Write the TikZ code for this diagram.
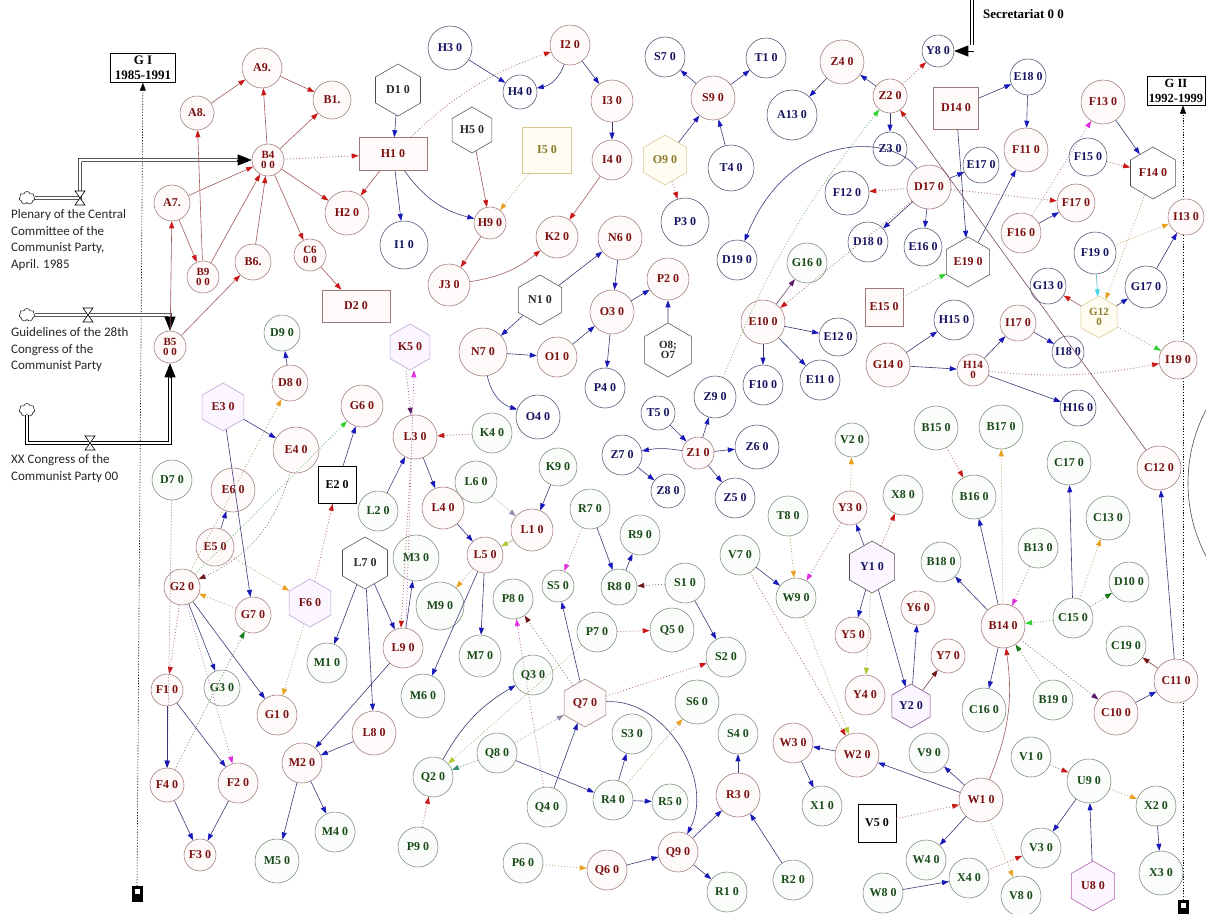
\documentclass[tikz,border=0pt]{standalone}
\usepackage{fontspec}
\setmainfont{Liberation Serif}
\newfontfamily\lblfont{Carlito}
\usetikzlibrary{arrows.meta,shapes.geometric,shapes.symbols,calc}
\definecolor{rtxt}{HTML}{7A1010}
\definecolor{rbd}{HTML}{A07878}
\definecolor{rfill}{HTML}{FFFAFA}
\definecolor{btxt}{HTML}{141460}
\definecolor{bbd}{HTML}{505070}
\definecolor{gtxt}{HTML}{1A4A1A}
\definecolor{gbd}{HTML}{7A8A7A}
\definecolor{gfill}{HTML}{FAFDFA}
\definecolor{ktxt}{HTML}{2A2A2A}
\definecolor{kbd}{HTML}{505050}
\definecolor{pbd}{HTML}{B8A0D8}
\definecolor{pfill}{HTML}{FBF6FF}
\definecolor{ybd}{HTML}{D8C890}
\definecolor{yfill}{HTML}{FFFDF2}
\definecolor{ytxt}{HTML}{8A7A2A}
\definecolor{bline}{HTML}{3A3A78}
\definecolor{rline}{HTML}{A05858}
\definecolor{barr}{HTML}{1818B8}
\definecolor{rarr}{HTML}{C81818}
\definecolor{oarr}{HTML}{E8A020}
\definecolor{marr}{HTML}{E030E0}
\definecolor{garr}{HTML}{30D030}
\definecolor{dgarr}{HTML}{1A7A1A}
\definecolor{drarr}{HTML}{701818}
\definecolor{parr}{HTML}{5A1A6A}
\definecolor{tarr}{HTML}{3A8A7A}
\definecolor{ygarr}{HTML}{B0C830}
\definecolor{carr}{HTML}{40D8E8}
\definecolor{gparr}{HTML}{9A8AAA}
\newcommand\ndf{\fontsize{12}{11}\selectfont\bfseries}
\newcommand\twf{\fontsize{11}{9.5}\selectfont\bfseries}
\newcommand\bxf{\fontsize{13}{15}\selectfont\bfseries}
\newcommand\bxg{\fontsize{12.5}{15}\selectfont\bfseries}
\tikzset{
  nd/.style={circle,inner sep=0pt,line width=0.55pt,align=center,font=\ndf},
  rn/.style={nd,draw=rbd,fill=rfill,text=rtxt,minimum size=#1},
  bn/.style={nd,draw=bbd,fill=white,text=btxt,minimum size=#1},
  gn/.style={nd,draw=gbd,fill=gfill,text=gtxt,minimum size=#1},
  two/.style={font=\twf},
  hx/.style={regular polygon,regular polygon sides=6,shape border rotate=30,inner sep=0pt,line width=0.55pt,align=center,font=\ndf,minimum size=#1},
  hk/.style={hx=#1,draw=kbd,fill=white,text=ktxt},
  hp/.style={hx=#1,draw=pbd,fill=pfill,text=rtxt},
  hy/.style={hx=#1,draw=ybd,fill=yfill,text=ytxt},
  bx/.style={rectangle,inner sep=0pt,line width=0.6pt,font=\ndf,align=center},
  tbox/.style={rectangle,draw=black,line width=0.7pt,fill=white,font=\bxf,align=center,inner xsep=4pt,inner ysep=2.5pt},
  be/.style={draw=bline,line width=0.6pt,-{Triangle[length=7pt,width=5pt,color=barr]}},
  re/.style={draw=rline,line width=0.6pt,-{Triangle[length=7pt,width=5pt,color=rarr]}},
  ce/.style={draw=#1!60!gray,line width=0.6pt,-{Triangle[length=7pt,width=5pt,color=#1]}},
  de/.style={draw=#1!45!gray!80,line width=0.75pt,dash pattern=on 1pt off 2pt,-{Triangle[length=7pt,width=5pt,color=#1]}},
  tl/.style={draw=black,line width=0.6pt,dash pattern=on 1.2pt off 1.6pt,-{Triangle[length=8pt,width=6pt]}},
  pipe/.style={draw=black,line width=0.6pt,double=white,double distance=2.6pt,line join=miter},
  cld/.style={cloud,cloud puffs=7,draw=black,line width=0.5pt,minimum width=16pt,minimum height=13pt,inner sep=0pt,fill=white},
  lbl/.style={font=\lblfont\fontsize{13}{16.8}\selectfont,align=left,inner sep=0pt,text=black!85},
  bigtip/.style={line width=0.6pt,-{Triangle[length=14pt,width=11pt]}}
}
\begin{document}
\begin{tikzpicture}[x=1pt,y=-1pt]
\useasboundingbox (0,0) rectangle (1206,913);
\fill[white] (0,0) rectangle (1206,913);

% ---------- time boxes ----------
\node[tbox] (GI) at (143,68) {G I\\1985-1991};
\node[tbox,font=\bxg,inner xsep=2pt] (GII) at (1176,91) {G II\\1992-1999};
\coordinate (GIb) at (137,886);
\coordinate (GIIb) at (1183,900);
\draw[tl] (GIb) -- (GI);
\draw[tl] (GIIb) -- (GIIb |- GII.south);
\filldraw[black] (132,886) rectangle (142,901);
\fill[white] (134.5,889) rectangle (139.5,894);
\filldraw[black] (1178,900) rectangle (1188,915);
\fill[white] (1180.5,903) rectangle (1185.5,908);
\draw[line width=0.6pt,black!70] (1345,483) circle[radius=157pt];

% ---------- top-left red cluster ----------
\node[rn=40pt] (A9) at (262,68) {A9.};
\node[rn=34pt] (A8) at (197,113) {A8.};
\node[rn=38pt] (B1) at (332,100) {B1.};
\node[rn=32pt,two] (B4) at (268,160) {B4\\0 0};
\node[rn=36pt] (A7) at (172,203) {A7.};
\node[rn=32pt,two] (B9) at (203,277) {B9\\0 0};
\node[rn=36pt] (B6) at (253,262) {B6.};
\node[rn=32pt,two] (C6) at (310,255) {C6\\0 0};
\node[rn=32pt,two] (B5) at (170,347) {B5\\0 0};
\node[rn=44pt] (H2) at (347,213) {H2 0};
\node[bx,draw=rbd,fill=rfill,text=rtxt,minimum width=68pt,minimum height=33pt] (H1) at (393,154) {H1 0};
\node[hk=52pt] (D1) at (398,90) {D1 0};
\node[bn=48pt] (I1) at (404,245) {I1 0};
\node[bn=44pt] (H3) at (450,48) {H3 0};
\node[bn=34pt] (H4) at (520,92) {H4 0};
\node[rn=40pt] (I2) at (570,45) {I2 0};
\node[hk=46pt] (H5) at (472,130) {H5 0};
\node[bx,draw=ybd,fill=yfill,text=ytxt,minimum width=49pt,minimum height=46pt] (I5) at (547,150) {I5 0};
\node[rn=32pt] (H9) at (490,223) {H9 0};
\node[rn=42pt] (J3) at (449,285) {J3 0};
\node[rn=42pt] (K2) at (557,237) {K2 0};
\node[rn=42pt] (I3) at (612,101) {I3 0};
\node[rn=40pt] (I4) at (612,160) {I4 0};
\node[rn=44pt] (N6) at (620,238) {N6 0};
\node[rn=42pt] (P2) at (668,279) {P2 0};
\node[rn=44pt] (O3) at (612,312) {O3 0};
\node[hk=50pt] (N1) at (540,300) {N1 0};
\node[rn=48pt] (N7) at (483,352) {N7 0};
\node[rn=40pt] (O1) at (557,357) {O1 0};
\node[bn=40pt] (P4) at (605,388) {P4 0};
\node[bn=44pt] (O4) at (538,417) {O4 0};
\node[hk=54pt,two] (O8) at (668,350) {O8;\\O7};
\node[bx,draw=rbd,fill=rfill,text=rtxt,minimum width=68pt,minimum height=32pt] (D2) at (356,306) {D2 0};

% ---------- top-middle / top-right ----------
\node[bn=40pt] (S7) at (665,57) {S7 0};
\node[bn=40pt] (T1) at (766,58) {T1 0};
\node[rn=44pt] (S9) at (713,98) {S9 0};
\node[bn=46pt] (T4) at (731,168) {T4 0};
\node[hy=50pt] (O9) at (665,160) {O9 0};
\node[bn=48pt] (P3) at (685,222) {P3 0};
\node[bn=50pt] (A13) at (792,115) {A13 0};
\node[rn=44pt] (Z4) at (842,62) {Z4 0};
\node[rn=34pt] (Z2) at (890,96) {Z2 0};
\node[bn=34pt] (Z3) at (890,149) {Z3 0};
\node[bn=44pt] (F12) at (847,193) {F12 0};
\node[bn=40pt] (D18) at (868,242) {D18 0};
\node[bn=40pt] (D19) at (737,260) {D19 0};
\node[gn=40pt] (G16) at (807,263) {G16 0};
\node[bx,draw=rbd,fill=rfill,text=rtxt,minimum width=38pt,minimum height=38pt] (E15) at (884,307) {E15 0};
\node[bn=32pt] (Y8) at (938,51) {Y8 0};
\node[bx,draw=rbd,fill=rfill,text=rtxt,minimum width=45pt,minimum height=42pt] (D14) at (956,108) {D14 0};
\node[bn=36pt] (E18) at (1028,77) {E18 0};
\node[rn=44pt] (F11) at (1026,150) {F11 0};
\node[rn=44pt] (F13) at (1103,102) {F13 0};
\node[hx=52pt,draw=kbd,fill=white,text=rtxt] (F14) at (1153,173) {F14 0};
\node[bn=38pt] (F15) at (1088,157) {F15 0};
\node[bn=36pt] (E17) at (981,165) {E17 0};
\node[rn=44pt] (D17) at (929,187) {D17 0};
\node[bn=38pt] (E16) at (923,247) {E16 0};
\node[hx=50pt,draw=kbd,fill=white,text=rtxt] (E19) at (968,262) {E19 0};
\node[rn=40pt] (F16) at (1021,233) {F16 0};
\node[rn=38pt] (F17) at (1076,203) {F17 0};
\node[bn=42pt] (F19) at (1095,253) {F19 0};
\node[rn=36pt] (I13) at (1186,217) {I13 0};
\node[bn=36pt] (G13) at (1048,286) {G13 0};
\node[bn=42pt] (G17) at (1146,287) {G17 0};
\node[hy=42pt,two] (G12) at (1099,317) {G12\\0};
\node[bn=40pt] (H15) at (954,320) {H15 0};
\node[rn=36pt] (I17) at (1018,323) {I17 0};
\node[bn=32pt] (I18) at (1068,352) {I18 0};
\node[rn=44pt] (G14) at (888,365) {G14 0};
\node[rn=32pt,two] (H14) at (973,370) {H14\\0};
\node[rn=38pt] (I19) at (1178,360) {I19 0};
\node[bn=36pt] (H16) at (1078,408) {H16 0};
\node[rn=44pt] (E10) at (763,322) {E10 0};
\node[bn=38pt] (E12) at (838,337) {E12 0};
\node[bn=40pt] (F10) at (763,385) {F10 0};
\node[bn=40pt] (E11) at (820,380) {E11 0};
\node[bn=42pt] (Z9) at (715,397) {Z9 0};
\node[bn=34pt] (T5) at (658,413) {T5 0};
\node[rn=32pt] (Z1) at (698,453) {Z1 0};
\node[bn=40pt] (Z7) at (622,455) {Z7 0};
\node[bn=44pt] (Z6) at (757,447) {Z6 0};
\node[bn=34pt] (Z8) at (668,491) {Z8 0};
\node[bn=40pt] (Z5) at (735,498) {Z5 0};

% ---------- middle-left ----------
\node[gn=36pt] (D9) at (282,333) {D9 0};
\node[rn=36pt] (D8) at (290,383) {D8 0};
\node[hp=48pt] (E3) at (223,407) {E3 0};
\node[rn=46pt] (E4) at (296,450) {E4 0};
\node[gn=40pt] (D7) at (172,480) {D7 0};
\node[rn=44pt] (E6) at (233,490) {E6 0};
\node[rn=38pt] (E5) at (215,547) {E5 0};
\node[rn=36pt] (G2) at (182,587) {G2 0};
\node[rn=36pt] (G7) at (253,615) {G7 0};
\node[hp=48pt] (F6) at (310,603) {F6 0};
\node[gn=36pt] (G3) at (222,688) {G3 0};
\node[rn=32pt] (F1) at (167,690) {F1 0};
\node[rn=40pt] (G1) at (277,715) {G1 0};
\node[rn=34pt] (F4) at (167,785) {F4 0};
\node[rn=40pt] (F2) at (238,783) {F2 0};
\node[rn=32pt] (F3) at (200,855) {F3 0};
\node[rn=40pt] (M2) at (302,763) {M2 0};
\node[gn=44pt] (M5) at (277,861) {M5 0};
\node[gn=40pt] (M4) at (335,832) {M4 0};
\node[rn=44pt] (L8) at (374,733) {L8 0};
\node[rn=40pt] (L9) at (403,648) {L9 0};
\node[gn=40pt] (M1) at (327,663) {M1 0};
\node[gn=44pt] (M6) at (423,696) {M6 0};
\node[gn=42pt] (M7) at (480,656) {M7 0};
\node[gn=48pt] (M9) at (440,606) {M9 0};
\node[hk=52pt] (L7) at (365,563) {L7 0};
\node[gn=46pt] (M3) at (416,558) {M3 0};
\node[gn=40pt] (L2) at (378,511) {L2 0};
\node[bx,draw=black,fill=white,text=black,minimum width=38pt,minimum height=37pt] (E2) at (337,485) {E2 0};
\node[rn=42pt] (G6) at (362,406) {G6 0};
\node[hp=46pt] (K5) at (410,347) {K5 0};
\node[rn=44pt] (L3) at (415,437) {L3 0};
\node[gn=40pt] (K4) at (492,433) {K4 0};
\node[gn=42pt] (L6) at (476,482) {L6 0};
\node[rn=42pt] (L4) at (443,508) {L4 0};
\node[rn=42pt] (L1) at (532,530) {L1 0};
\node[gn=38pt] (K9) at (558,467) {K9 0};
\node[rn=36pt] (L5) at (485,555) {L5 0};

% ---------- center ----------
\node[gn=40pt] (R7) at (590,509) {R7 0};
\node[gn=32pt] (S5) at (558,586) {S5 0};
\node[gn=40pt] (P8) at (513,599) {P8 0};
\node[gn=40pt] (R9) at (640,535) {R9 0};
\node[gn=36pt] (R8) at (619,587) {R8 0};
\node[gn=40pt] (S1) at (685,583) {S1 0};
\node[gn=40pt] (P7) at (597,632) {P7 0};
\node[gn=44pt] (Q5) at (672,630) {Q5 0};
\node[gn=40pt] (S2) at (726,657) {S2 0};
\node[gn=40pt] (Q3) at (533,675) {Q3 0};
\node[hx=48pt,draw=rbd,fill=rfill,text=rtxt] (Q7) at (585,703) {Q7 0};
\node[gn=40pt] (Q8) at (497,753) {Q8 0};
\node[gn=40pt] (Q2) at (433,777) {Q2 0};
\node[gn=40pt] (Q4) at (547,807) {Q4 0};
\node[gn=40pt] (R4) at (613,800) {R4 0};
\node[gn=40pt] (S3) at (632,734) {S3 0};
\node[gn=36pt] (R5) at (670,802) {R5 0};
\node[gn=44pt] (S6) at (697,702) {S6 0};
\node[gn=40pt] (S4) at (738,734) {S4 0};
\node[rn=44pt] (R3) at (738,795) {R3 0};
\node[rn=40pt] (Q9) at (678,852) {Q9 0};
\node[gn=40pt] (R1) at (727,892) {R1 0};
\node[gn=40pt] (R2) at (793,880) {R2 0};
\node[gn=40pt] (P9) at (418,847) {P9 0};
\node[gn=40pt] (P6) at (523,863) {P6 0};
\node[rn=40pt] (Q6) at (607,870) {Q6 0};

% ---------- right ----------
\node[rn=40pt] (W3) at (793,743) {W3 0};
\node[rn=44pt] (W2) at (857,755) {W2 0};
\node[gn=40pt] (X1) at (822,806) {X1 0};
\node[bx,draw=black,fill=white,text=black,minimum width=38pt,minimum height=38pt] (V5) at (877,823) {V5 0};
\node[gn=34pt] (V2) at (852,440) {V2 0};
\node[gn=40pt] (T8) at (788,516) {T8 0};
\node[rn=34pt] (Y3) at (850,508) {Y3 0};
\node[gn=40pt] (X8) at (903,495) {X8 0};
\node[hx=52pt,draw=kbd,fill=pfill,text=btxt] (Y1) at (872,567) {Y1 0};
\node[gn=40pt] (V7) at (740,555) {V7 0};
\node[gn=40pt] (W9) at (796,598) {W9 0};
\node[rn=36pt] (Y5) at (853,635) {Y5 0};
\node[rn=40pt] (Y4) at (865,695) {Y4 0};
\node[rn=34pt] (Y6) at (918,608) {Y6 0};
\node[rn=34pt] (Y7) at (948,656) {Y7 0};
\node[hx=44pt,draw=parr!80,fill=pfill,text=btxt] (Y2) at (911,706) {Y2 0};
\node[gn=44pt] (B15) at (936,428) {B15 0};
\node[gn=44pt] (B17) at (1001,427) {B17 0};
\node[gn=44pt] (C17) at (1069,463) {C17 0};
\node[rn=44pt] (C12) at (1159,468) {C12 0};
\node[gn=44pt] (B16) at (974,497) {B16 0};
\node[gn=44pt] (C13) at (1108,518) {C13 0};
\node[gn=40pt] (B13) at (1038,548) {B13 0};
\node[gn=40pt] (B18) at (941,562) {B18 0};
\node[gn=40pt] (D10) at (1129,582) {D10 0};
\node[gn=40pt] (C15) at (1073,618) {C15 0};
\node[rn=44pt] (B14) at (1003,626) {B14 0};
\node[gn=40pt] (C19) at (1126,646) {C19 0};
\node[gn=44pt] (C16) at (984,710) {C16 0};
\node[gn=40pt] (B19) at (1053,700) {B19 0};
\node[rn=44pt] (C10) at (1116,713) {C10 0};
\node[rn=44pt] (C11) at (1176,681) {C11 0};
\node[gn=40pt] (V9) at (929,753) {V9 0};
\node[rn=44pt] (W1) at (981,800) {W1 0};
\node[gn=40pt] (V1) at (1031,757) {V1 0};
\node[gn=44pt] (U9) at (1089,781) {U9 0};
\node[gn=40pt] (X2) at (1156,806) {X2 0};
\node[gn=40pt] (V3) at (1041,848) {V3 0};
\node[gn=40pt] (W4) at (926,860) {W4 0};
\node[gn=40pt] (X4) at (969,878) {X4 0};
\node[gn=40pt] (W8) at (883,893) {W8 0};
\node[gn=40pt] (V8) at (1021,896) {V8 0};
\node[hx=50pt,draw=marr!50!gray,fill=pfill,text=rtxt] (U8) at (1093,886) {U8 0};
\node[gn=44pt] (X3) at (1161,873) {X3 0};

% ---------- left stock-flow pipes ----------
\node[cld] (CL1) at (27,198) {};
\node[cld] (CL2) at (27,315) {};
\node[cld] (CL3) at (27,410) {};
\draw[pipe] (CL1.east) -- (80,198) -- (80,160) -- ($(B4.west)+(-13,0)$);
\draw[bigtip] ($(B4.west)+(-15,0)$) -- (B4.west);
\draw[pipe] (CL2.east) -- (170,315) -- ($(B5.north)+(0,-13)$);
\draw[bigtip] ($(B5.north)+(0,-15)$) -- (B5.north);
\draw[pipe] (CL3.south) -- (27,443) -- (170,443) -- ($(B5.south)+(0,13)$);
\draw[bigtip] ($(B5.south)+(0,15)$) -- (B5.south);
\draw[line width=0.6pt,fill=white] (75,191) -- (85,191) -- (75,205) -- (85,205) -- cycle;
\draw[line width=0.6pt,fill=white] (83,308) -- (93,308) -- (83,322) -- (93,322) -- cycle;
\draw[line width=0.6pt,fill=white] (85,436) -- (95,436) -- (85,450) -- (95,450) -- cycle;
\node[lbl,anchor=north west] (TX1) at (11,209) {Plenary of the Central\\Committee of the\\Communist Party,\\April. 1985};
\node[lbl,anchor=north west] (TX2) at (11,327) {Guidelines of the 28th\\Congress of the\\Communist Party};
\node[lbl,anchor=north west] (TX3) at (11,454) {XX Congress of the\\Communist Party 00};
% top pipe and caption
\node[font=\bxf,anchor=base west,inner sep=0pt] (SEC) at (983,18) {Secretariat 0 0};
\draw[pipe] (972,-4) -- (972,45);
\draw[bigtip] (974,51) -- (Y8.east);

% ---------- edges: top-left ----------
\draw[re] (A8) -- (A9);
\draw[re] (A9) -- (B1);
\draw[re] (B4) -- (A9);
\draw[re] (B4) -- (B1);
\draw[re] (A7) -- (B4);
\draw[re] (B9) -- (A8);
\draw[re] (B9) -- (B4);
\draw[re] (B6) -- (B4);
\draw[re] (A7) -- (B9);
\draw[re] (B4) -- (H2);
\draw[re] (B4) -- (C6);
\draw[de=rarr] (B4) -- (H1);
\draw[re] (B5) -- (A7);
\draw[re] (B5) -- (B6);
\draw[re] (C6) -- (D2);
\draw[re] (H1) -- (H2);
\draw[be] (D1) -- (H1);
\draw[be] (H1) -- (I1);
\draw[be] (H1) to[bend right=20] (H9);
\draw[de=rarr] (H1) to[bend left=12] (I2);
\draw[be] (H3) -- (H4);
\draw[be] (I2) to[bend left=30] (H4);
\draw[be] (I2) -- (I3);
\draw[be] (I3) -- (I4);
\draw[re] (I4) -- (K2);
\draw[re] (H5) -- (H9);
\draw[de=oarr] (I5) -- (H9);
\draw[re] (H9) -- (J3);
\draw[re] (J3) to[bend right=15] (K2);
\draw[be] (N1) -- (N6);
\draw[be] (N6) -- (O3);
\draw[be] (O3) -- (P2);
\draw[be] (O8) -- (P2);
\draw[be] (O3) -- (P4);
\draw[be] (N1) -- (N7);
\draw[be] (N7) -- (O1);
\draw[be] (O1) -- (O3);
\draw[be] (N7) to[bend right=30] (O4);
\draw[be] (O9) -- (S9);
\draw[de=rarr] (O9) -- (P3);
\draw[be] (S9) -- (S7);
\draw[be] (S9) -- (T1);
\draw[be] (T4) -- (S9);
\draw[be] (Z2) -- (Z4);
\draw[be] (Z4) -- (A13);
\draw[be] (Z2) -- (Z3);
\draw[de=rarr] (Z2) -- (Y8);
\draw[de=garr] (Z9) to[bend left=8] (Z2);
\draw[be] (D17) .. controls (895,135) and (790,128) .. (D19);
\draw[de=rarr] (D17) -- (F12);
\draw[be] (D17) -- (D18);
\draw[be] (D17) -- (E16);
\draw[be] (D17) -- (E17);
\draw[de=rarr] (D17) -- (F17);
\draw[de=rarr] (D17) -- (E10);
\draw[ce=parr] (E10) -- (G16);
\draw[be] (D14) -- (E18);
\draw[be] (D14) -- (E19);
\draw[be] (E18) -- (F11);
\draw[be] (E19) -- (F11);
\draw[be] (F13) -- (F14);
\draw[de=rarr] (F15) -- (F14);
\draw[be] (F16) -- (F17);
\draw[de=marr] (F16) -- (F13);
\draw[de=garr] (E15) -- (E19);
\draw[line width=0.6pt,draw=rline!60!bline,-{Triangle[length=7pt,width=5pt,color=rarr]}] (C12) -- (Z2);
\draw[de=oarr] (F14) -- (G12);
\draw[ce=carr] (F19) -- (G12);
\draw[re] (G12) -- (G13);
\draw[be] (G12) -- (G17);
\draw[be] (G17) -- (I13);
\draw[de=oarr] (F19) -- (I13);
\draw[de=garr] (G12) -- (I19);
\draw[de=rarr] (H14) to[bend right=8] (I19);
\draw[be] (G14) -- (H15);
\draw[be] (G14) -- (H14);
\draw[be] (H14) -- (I17);
\draw[be] (I17) -- (I18);
\draw[be] (H14) -- (H16);
\draw[be] (E10) -- (E12);
\draw[be] (E10) -- (F10);
\draw[be] (E10) -- (E11);
\draw[be] (Z1) to[bend right=10] (Z7);
\draw[be] (T5) -- (Z1);
\draw[be] (Z1) -- (Z9);
\draw[be] (Z1) -- (Z6);
\draw[be] (Z7) -- (Z8);
\draw[be] (Z1) -- (Z5);

% ---------- edges: middle-left ----------
\draw[be] (D8) -- (D9);
\draw[be] (E3) -- (E4);
\draw[be] (E3) -- (G7);
\draw[be] (E5) -- (E6);
\draw[de=oarr] (G2) -- (D8);
\draw[de=garr] (G2) -- (G6);
\draw[de=drarr] (E4) to[bend left=25] (G2);
\draw[de=rarr] (G2) -- (F1);
\draw[de=parr] (D7) -- (F4);
\draw[de=oarr] (E5) -- (F6);
\draw[de=rarr] (F6) -- (E2);
\draw[be] (E2) -- (G6);
\draw[de=oarr] (F6) -- (G1);
\draw[de=oarr] (G7) -- (G2);
\draw[de=dgarr] (F4) -- (G7);
\draw[be] (G2) -- (G3);
\draw[be] (G2) -- (G1);
\draw[de=marr] (G2) -- (F2);
\draw[be] (F1) -- (F4);
\draw[be] (F1) -- (F2);
\draw[be] (F4) -- (F3);
\draw[be] (F2) -- (F3);
\draw[be] (M2) -- (M5);
\draw[be] (M2) -- (M4);
\draw[be] (L8) -- (M2);
\draw[be] (L9) -- (M2);
\draw[be] (L7) -- (M1);
\draw[be] (L7) -- (L8);
\draw[be] (L7) -- (L9);
\draw[be] (L9) -- (M3);
\draw[de=rarr] ([xshift=-4pt]L3.south) -- ([xshift=-2pt]L9.north);
\draw[de=parr] ([xshift=-4pt]K5.south) -- ([xshift=-4pt]L3.north);
\draw[de=marr] ([xshift=3pt]L9.north) -- ([xshift=4pt]K5.south);
\draw[be] (L2) -- (L3);
\draw[be] (L3) -- (L4);
\draw[de=rarr] (K4) -- (L3);
\draw[be] (L4) -- (L5);
\draw[de=gparr] (L6) -- (L1);
\draw[be] (K9) -- (L1);
\draw[ce=ygarr] (L1) -- (L5);
\draw[be] (L5) -- (M6);
\draw[be] (L5) -- (M7);
\draw[de=oarr] (L5) -- (M9);

% ---------- edges: center ----------
\draw[de=marr] (R7) -- (S5);
\draw[be] (R7) -- (R8);
\draw[be] (R8) -- (R9);
\draw[de=drarr] (S1) -- (R8);
\draw[be] (S1) -- (S2);
\draw[de=rarr] (P7) -- (Q5);
\draw[de=rarr] (Q7) -- (S2);
\draw[de=gparr] (Q8) -- (Q7);
\draw[be] (Q7) -- (S5);
\draw[be] (Q7) .. controls (665,698) and (715,780) .. (Q9);
\draw[be] (Q4) -- (Q7);
\draw[be] (Q8) -- (R4);
\draw[de=tarr] (Q8) -- (Q2);
\draw[be] (Q2) to[bend left=15] (Q3);
\draw[de=ygarr] (P7) -- (Q2);
\draw[de=marr] (Q4) -- (P8);
\draw[de=drarr] (Q7) -- (P8);
\draw[be] (R4) -- (S3);
\draw[be] (R4) -- (R5);
\draw[de=oarr] (R4) -- (S6);
\draw[de=rarr] (P9) -- (Q2);
\draw[de=oarr] (P6) -- (Q6);
\draw[be] (Q6) -- (Q9);
\draw[be] (Q9) -- (R3);
\draw[be] (Q9) -- (R1);
\draw[be] (R3) -- (S4);
\draw[be] (R2) -- (R3);

% ---------- edges: right ----------
\draw[be] (W2) -- (W3);
\draw[be] (W3) -- (X1);
\draw[be] (W1) -- (W2);
\draw[de=rarr] (V7) -- (W2);
\draw[de=ygarr] (W9) -- (W2);
\draw[de=oarr] (T8) -- (W9);
\draw[de=marr] (Y3) -- (W9);
\draw[be] (V7) -- (W9);
\draw[de=oarr] (Y3) -- (V2);
\draw[be] (Y1) -- (Y3);
\draw[de=rarr] (Y1) -- (X8);
\draw[be] (Y1) -- (Y5);
\draw[de=ygarr] (Y1) -- (Y4);
\draw[be] (Y2) -- (Y6);
\draw[be] (Y1) -- (Y2);
\draw[ce=drarr] (Y2) -- (Y7);
\draw[be] (B14) -- (B16);
\draw[be] (B14) -- (B18);
\draw[de=oarr] (B14) -- (B17);
\draw[de=rarr] (B15) -- (B16);
\draw[de=marr] (B13) -- (B14);
\draw[be] (C15) -- (C17);
\draw[de=oarr] (C15) -- (C13);
\draw[de=dgarr] (C15) -- (D10);
\draw[de=garr] (C15) -- (B14);
\draw[de=dgarr] (B19) -- (B14);
\draw[be] (B14) -- (C16);
\draw[de=parr] (B14) -- (C10);
\draw[be] (C10) -- (C11);
\draw[ce=drarr] (C11) -- (C19);
\draw[be] (C11) -- (C12);
\draw[re] (W1) to[bend right=15] (B14);
\draw[be] (W1) -- (V9);
\draw[be] (W1) -- (W4);
\draw[de=rarr] (V5) -- (W1);
\draw[de=oarr] (W1) -- (V8);
\draw[de=rarr] (X4) -- (V3);
\draw[be] (W8) -- (X4);
\draw[de=rarr] (V1) -- (U9);
\draw[be] (U9) -- (V3);
\draw[be] (U8) -- (U9);
\draw[de=oarr] (U9) -- (X2);
\draw[be] (X2) -- (X3);
\end{tikzpicture}
\end{document}
